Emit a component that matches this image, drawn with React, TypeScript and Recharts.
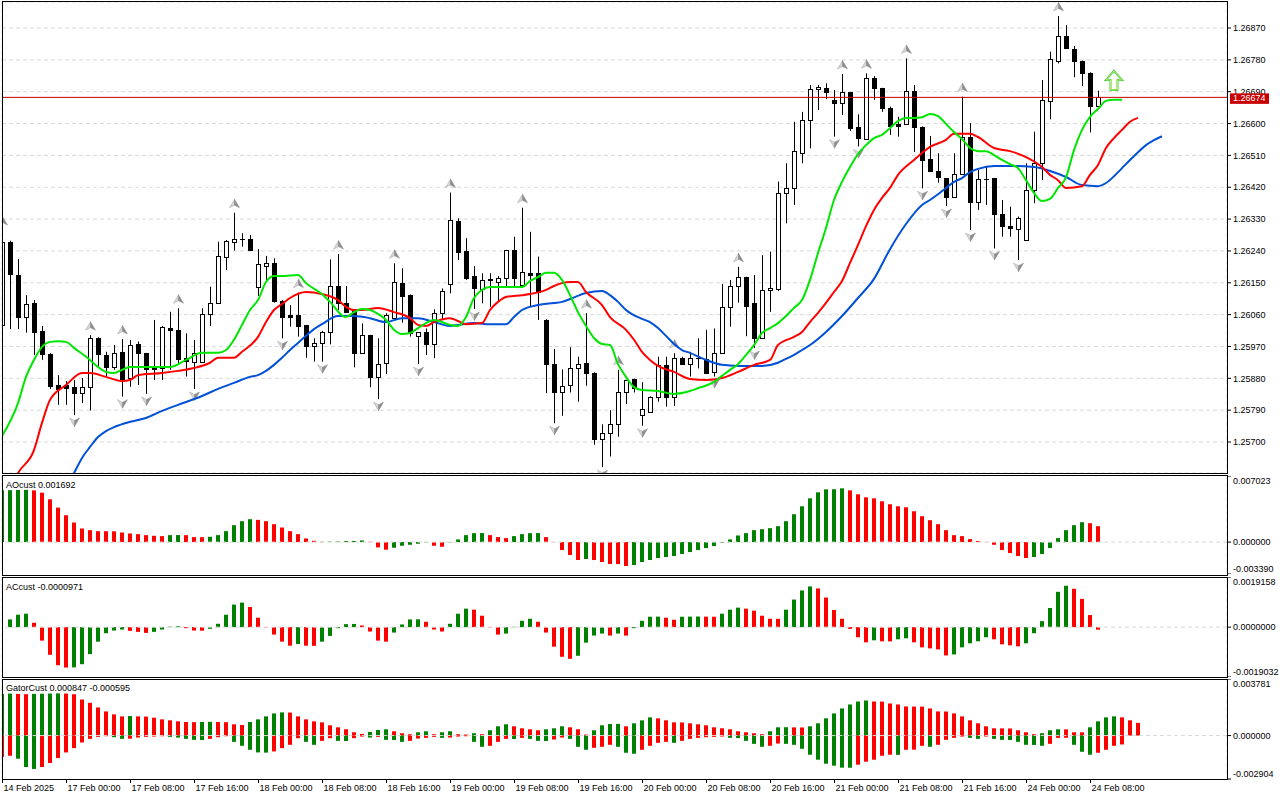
import React from 'react'
import {
  ComposedChart,
  Bar,
  Line,
  XAxis,
  YAxis,
  CartesianGrid,
  Cell,
  ReferenceLine,
  ReferenceDot,
} from 'recharts'

// ---------------------------------------------------------------------------
// Data (H1 bars, 14 Feb 16:00 .. 24 Feb 09:00)
// ---------------------------------------------------------------------------
// [open, high, low, close]
const OHLC: [number, number, number, number][] = [
  [1.26031, 1.26299, 1.26017, 1.26265], // 0
  [1.26266, 1.26269, 1.26019, 1.26174],
  [1.26172, 1.26217, 1.26019, 1.26054],
  [1.26054, 1.26115, 1.26009, 1.26089],
  [1.26092, 1.26101, 1.25946, 1.26012],
  [1.26014, 1.26028, 1.25932, 1.25949],
  [1.25949, 1.25951, 1.2585, 1.25859],
  [1.25861, 1.25889, 1.25805, 1.2585],
  [1.25861, 1.25872, 1.25805, 1.25853],
  [1.25855, 1.25875, 1.25776, 1.25839],
  [1.25838, 1.25881, 1.2581, 1.25856], // 10
  [1.25856, 1.26002, 1.25789, 1.25994],
  [1.25995, 1.25996, 1.25913, 1.25948],
  [1.25946, 1.25955, 1.25885, 1.25913],
  [1.25911, 1.25974, 1.25904, 1.25951],
  [1.25954, 1.25991, 1.25828, 1.25878],
  [1.2588, 1.25988, 1.25856, 1.25974],
  [1.25976, 1.25984, 1.25861, 1.25951],
  [1.25951, 1.25952, 1.25836, 1.25905],
  [1.2591, 1.26045, 1.25875, 1.25906],
  [1.25908, 1.26028, 1.25875, 1.26026], // 20
  [1.26023, 1.26068, 1.25904, 1.26017],
  [1.26017, 1.26078, 1.25922, 1.25935],
  [1.25937, 1.26007, 1.25885, 1.2593],
  [1.25927, 1.25988, 1.2585, 1.25951],
  [1.25927, 1.26078, 1.25925, 1.26062],
  [1.26061, 1.26139, 1.26028, 1.26092],
  [1.26092, 1.26266, 1.2609, 1.26226],
  [1.26224, 1.26271, 1.26186, 1.26268],
  [1.26266, 1.26348, 1.26241, 1.26273],
  [1.26273, 1.2629, 1.26252, 1.26274], // 30
  [1.26273, 1.26285, 1.26241, 1.26243],
  [1.26139, 1.26245, 1.26113, 1.26203],
  [1.26198, 1.26226, 1.26158, 1.26205],
  [1.26205, 1.26219, 1.26094, 1.26099],
  [1.26099, 1.26101, 1.25993, 1.26054],
  [1.26059, 1.26087, 1.26026, 1.26054],
  [1.26059, 1.26122, 1.25998, 1.26029],
  [1.26031, 1.26031, 1.25938, 1.25972],
  [1.25972, 1.25993, 1.25927, 1.25979],
  [1.25979, 1.26014, 1.25927, 1.26012], // 40
  [1.26012, 1.26216, 1.25976, 1.26142],
  [1.26142, 1.26231, 1.26073, 1.26092],
  [1.26092, 1.26141, 1.26066, 1.26068],
  [1.26073, 1.26075, 1.25911, 1.25951],
  [1.25952, 1.26035, 1.2595, 1.26002],
  [1.26002, 1.26003, 1.25855, 1.25883],
  [1.25883, 1.25993, 1.25821, 1.2592],
  [1.25922, 1.26064, 1.25892, 1.26059],
  [1.2605, 1.26205, 1.26048, 1.26151],
  [1.26149, 1.26191, 1.26037, 1.26114], // 50
  [1.26115, 1.26117, 1.25998, 1.26007],
  [1.26, 1.26011, 1.2592, 1.2601],
  [1.2601, 1.26021, 1.25946, 1.25976],
  [1.25976, 1.26075, 1.25937, 1.26064],
  [1.26064, 1.26134, 1.26045, 1.26127],
  [1.26146, 1.26405, 1.2612, 1.26327],
  [1.26325, 1.26332, 1.26214, 1.26238],
  [1.2624, 1.26276, 1.26158, 1.26164],
  [1.26169, 1.26197, 1.26076, 1.26134],
  [1.26132, 1.26177, 1.26092, 1.26158], // 60
  [1.26158, 1.26177, 1.26082, 1.26161],
  [1.26153, 1.26169, 1.26097, 1.26163],
  [1.26163, 1.26243, 1.26139, 1.26243],
  [1.26243, 1.2628, 1.26139, 1.26163],
  [1.26144, 1.26362, 1.26143, 1.2618],
  [1.26178, 1.26294, 1.26082, 1.26172],
  [1.26177, 1.26224, 1.26045, 1.26125],
  [1.26045, 1.26047, 1.25838, 1.2592],
  [1.2592, 1.25963, 1.25753, 1.25842],
  [1.2584, 1.25905, 1.25774, 1.25858], // 70
  [1.25861, 1.25968, 1.2584, 1.25908],
  [1.25908, 1.25941, 1.25814, 1.2592],
  [1.25922, 1.26064, 1.25859, 1.25894],
  [1.25894, 1.25897, 1.25692, 1.25709],
  [1.25708, 1.2575, 1.25629, 1.25725],
  [1.25725, 1.2579, 1.25659, 1.2575],
  [1.2575, 1.25904, 1.25715, 1.2584],
  [1.2584, 1.25876, 1.25807, 1.25875],
  [1.25878, 1.25879, 1.2584, 1.25852],
  [1.25776, 1.25869, 1.25746, 1.25792], // 80
  [1.25784, 1.25829, 1.25783, 1.25828],
  [1.25828, 1.25941, 1.25814, 1.25918],
  [1.25918, 1.25941, 1.258, 1.25828],
  [1.25828, 1.25951, 1.25802, 1.25937],
  [1.25937, 1.25941, 1.25918, 1.2592],
  [1.2592, 1.25955, 1.25885, 1.25937],
  [1.25937, 1.25993, 1.25908, 1.25938],
  [1.25935, 1.26017, 1.25896, 1.25896],
  [1.25899, 1.26021, 1.25885, 1.25951],
  [1.25951, 1.26147, 1.2595, 1.26081], // 90
  [1.26081, 1.26158, 1.26026, 1.26141],
  [1.26141, 1.26195, 1.26094, 1.26166],
  [1.26166, 1.26167, 1.25999, 1.26085],
  [1.26094, 1.26172, 1.25966, 1.25993],
  [1.25993, 1.26228, 1.25992, 1.2613],
  [1.2613, 1.26238, 1.26068, 1.26134],
  [1.26132, 1.26436, 1.26127, 1.26403],
  [1.26403, 1.26488, 1.26318, 1.26417],
  [1.26417, 1.26605, 1.2637, 1.26522],
  [1.26518, 1.26633, 1.26488, 1.2661], // 100
  [1.2661, 1.26709, 1.2653, 1.26697],
  [1.26697, 1.26709, 1.26638, 1.26702],
  [1.267, 1.26714, 1.26669, 1.26688],
  [1.26667, 1.26695, 1.26563, 1.26657],
  [1.26657, 1.2674, 1.26624, 1.26688],
  [1.26688, 1.26689, 1.26579, 1.26588],
  [1.26589, 1.26626, 1.26535, 1.26558],
  [1.26555, 1.26742, 1.26554, 1.26728],
  [1.26728, 1.26734, 1.26667, 1.267],
  [1.267, 1.26701, 1.26633, 1.26643], // 110
  [1.26643, 1.26648, 1.26568, 1.26593],
  [1.26599, 1.26619, 1.26563, 1.26593],
  [1.26598, 1.26784, 1.26597, 1.26692],
  [1.26692, 1.26709, 1.2652, 1.26591],
  [1.26591, 1.26592, 1.26417, 1.26497],
  [1.26499, 1.26565, 1.26466, 1.26467],
  [1.26467, 1.26516, 1.26433, 1.26448],
  [1.26445, 1.26446, 1.26367, 1.26393],
  [1.26393, 1.26516, 1.26392, 1.26457],
  [1.26457, 1.26676, 1.26456, 1.26561], // 120
  [1.26561, 1.26601, 1.26299, 1.26379],
  [1.26379, 1.26469, 1.26356, 1.26443],
  [1.26443, 1.26478, 1.2637, 1.26442],
  [1.26445, 1.26446, 1.26247, 1.26344],
  [1.26344, 1.26384, 1.2628, 1.2631],
  [1.2631, 1.26365, 1.2628, 1.26304],
  [1.26301, 1.26337, 1.26214, 1.26332],
  [1.26271, 1.26488, 1.2627, 1.26412],
  [1.26412, 1.26577, 1.26375, 1.26488],
  [1.26488, 1.26723, 1.2644, 1.26667], // 130
  [1.26664, 1.26803, 1.26612, 1.26782],
  [1.26777, 1.26904, 1.2677, 1.26847],
  [1.26847, 1.26878, 1.26812, 1.26813],
  [1.2681, 1.26819, 1.26731, 1.26777],
  [1.26777, 1.26778, 1.26706, 1.26742],
  [1.26744, 1.26745, 1.26575, 1.2665],
  [1.2665, 1.26693, 1.2665, 1.26674],
]

const FRACTAL_UP = [0, 11, 15, 22, 29, 37, 42, 49, 56, 65, 73, 77, 84, 92, 105, 108, 113, 120, 132]
const FRACTAL_DOWN = [9, 15, 18, 24, 35, 40, 47, 52, 59, 69, 75, 80, 89, 94, 104, 107, 115, 118, 121, 124, 127]

// alligator lines, [bar index, price] (already shifted forward)
const LIPS: [number, number][] = [
  [0, 1.25717], [2, 1.2581], [3, 1.25884], [4, 1.25932], [5, 1.25969], [6, 1.25983], [7, 1.25985],
  [8, 1.25983], [9, 1.25966], [11, 1.25932], [12, 1.25912], [13, 1.25898], [14, 1.25895], [15, 1.25904],
  [16, 1.25912], [18, 1.25912], [21, 1.25912], [23, 1.25932], [25, 1.25952], [27, 1.25952], [28, 1.2596],
  [29, 1.25989], [30, 1.26031], [31, 1.26073], [32, 1.26101], [33, 1.26152], [34, 1.26169], [35, 1.26169],
  [37, 1.26172], [38, 1.26149], [40, 1.26118], [41, 1.26096], [43, 1.26053], [44, 1.26067], [45, 1.26076],
  [46, 1.26073], [47, 1.26062], [48, 1.26045], [49, 1.26017], [50, 1.26005], [51, 1.26008], [52, 1.26022],
  [53, 1.26036], [54, 1.26045], [56, 1.26031], [57, 1.26028], [58, 1.26053], [59, 1.26107], [60, 1.2613],
  [61, 1.26138], [63, 1.26138], [65, 1.26138], [66, 1.26155], [67, 1.26166], [68, 1.26178], [69, 1.26178],
  [70, 1.26158], [71, 1.26115], [72, 1.26067], [73, 1.26028], [74, 1.25994], [75, 1.25977], [76, 1.25974],
  [77, 1.2592], [78, 1.25884], [79, 1.25855], [80, 1.25847], [82, 1.25844], [84, 1.25836], [86, 1.25844],
  [87, 1.25852], [89, 1.2587], [90, 1.25887], [91, 1.25904], [92, 1.2592], [93, 1.25946], [94, 1.25974],
  [95, 1.26008], [96, 1.26022], [97, 1.26036], [98, 1.26056], [99, 1.26079], [100, 1.26101], [101, 1.26158],
  [102, 1.26234], [103, 1.26305], [104, 1.26384], [105, 1.26435], [106, 1.26477], [107, 1.26514],
  [108, 1.26539], [109, 1.26559], [110, 1.26568], [111, 1.26587], [112, 1.26607], [113, 1.26616],
  [114, 1.26616], [115, 1.26618], [116, 1.26627], [117, 1.26621], [118, 1.26599], [119, 1.26576],
  [120, 1.26556], [121, 1.26531], [122, 1.26522], [123, 1.26522], [124, 1.26511], [125, 1.26497],
  [126, 1.26485], [127, 1.26474], [128, 1.2644], [129, 1.26404], [130, 1.26381], [131, 1.26387],
  [132, 1.26418], [133, 1.26448], [134, 1.26525], [135, 1.26582], [136, 1.26619], [137, 1.26641],
  [138, 1.26664], [139, 1.26667], [140, 1.26667],
]

const TEETH: [number, number][] = [
  [1, 1.25564], [2, 1.25612], [4, 1.25677], [5, 1.25754], [6, 1.25819], [8, 1.25861], [10, 1.25895],
  [11, 1.25895], [13, 1.25884], [15, 1.25872], [16, 1.25875], [17, 1.25889], [20, 1.25895], [22, 1.25901],
  [24, 1.25909], [26, 1.25924], [27, 1.25938], [29, 1.25938], [30, 1.25955], [32, 1.25997], [33, 1.26039],
  [34, 1.26073], [35, 1.2609], [36, 1.26107], [38, 1.26124], [40, 1.26118], [42, 1.26101], [43, 1.26082],
  [44, 1.26073], [45, 1.26073], [47, 1.26079], [49, 1.26067], [51, 1.2605], [52, 1.26031], [53, 1.26028],
  [54, 1.26039], [56, 1.2605], [57, 1.26042], [58, 1.26033], [60, 1.26036], [61, 1.26073], [62, 1.26096],
  [63, 1.2611], [65, 1.26115], [66, 1.26118], [68, 1.2613], [69, 1.26141], [70, 1.26149], [71, 1.26152],
  [72, 1.26152], [73, 1.26124], [75, 1.26087], [76, 1.26053], [78, 1.26017], [79, 1.25989], [80, 1.25955],
  [81, 1.25932], [82, 1.25915], [84, 1.25898], [86, 1.25878], [88, 1.25875], [90, 1.25881], [92, 1.25898],
  [94, 1.25918], [96, 1.25932], [97, 1.25974], [99, 1.25997], [100, 1.26011], [101, 1.26039], [102, 1.26065],
  [103, 1.26093], [104, 1.26124], [105, 1.26155], [106, 1.26206], [107, 1.26257], [108, 1.2631],
  [109, 1.26356], [110, 1.2639], [111, 1.26418], [112, 1.26455], [114, 1.26497], [116, 1.26534],
  [118, 1.26554], [119, 1.26571], [121, 1.26571], [122, 1.26562], [124, 1.26531], [126, 1.26522],
  [128, 1.26505], [130, 1.26477], [131, 1.26455], [132, 1.2644], [133, 1.26418], [135, 1.26423],
  [136, 1.26455], [137, 1.26483], [138, 1.26531], [139, 1.26559], [140, 1.26582], [141, 1.26605],
  [142, 1.26616],
]

const JAW: [number, number][] = [
  [8, 1.2557], [9, 1.25612], [10, 1.25655], [11, 1.25686], [12, 1.25714], [13, 1.25731], [14, 1.25742],
  [16, 1.25757], [18, 1.25768], [20, 1.25788], [22, 1.25805], [25, 1.2583], [27, 1.2585], [29, 1.25867],
  [31, 1.25884], [32, 1.25889], [33, 1.25901], [34, 1.25918], [35, 1.25938], [36, 1.2596], [37, 1.2598],
  [38, 1.26], [39, 1.26019], [40, 1.26033], [42, 1.26056], [44, 1.26056], [46, 1.2605], [48, 1.26039],
  [50, 1.2605], [52, 1.2605], [54, 1.26039], [56, 1.26028], [57, 1.26031], [59, 1.26036], [61, 1.26033],
  [63, 1.26033], [64, 1.26053], [65, 1.26073], [67, 1.26087], [69, 1.26093], [70, 1.26096], [71, 1.26104],
  [73, 1.26121], [75, 1.26127], [76, 1.26115], [77, 1.26096], [78, 1.26073], [80, 1.26048], [81, 1.26039],
  [82, 1.26022], [83, 1.26], [84, 1.25977], [85, 1.2596], [86, 1.25952], [88, 1.25932], [90, 1.25918],
  [92, 1.25915], [95, 1.25915], [97, 1.25924], [98, 1.25935], [99, 1.25946], [100, 1.2596], [101, 1.25974],
  [103, 1.26011], [105, 1.26056], [107, 1.26107], [109, 1.26161], [111, 1.26245], [113, 1.26316],
  [115, 1.2637], [116, 1.26384], [117, 1.264], [118, 1.26418], [119, 1.26435], [120, 1.26446],
  [121, 1.26463], [122, 1.26472], [124, 1.2648], [126, 1.2648], [129, 1.26477], [131, 1.26466],
  [133, 1.26449], [135, 1.26426], [137, 1.26423], [138, 1.26432], [139, 1.26451], [140, 1.26474],
  [141, 1.26497], [142, 1.26519], [143, 1.26539], [144, 1.26553], [145, 1.26564],
]

// oscillators, in millionths (AC in ten-millionths)
const AO_E6 = [
  5499, 5517, 5534, 5552, 5499, 5252, 4547, 3666, 2855, 2080,
  1445, 1269, 1163, 1156, 1146, 1022, 917, 846, 740, 670,
  635, 740, 747, 740, 529, 522, 564, 740, 1163, 1798,
  2221, 2432, 2362, 2221, 1904, 1551, 1163, 846, 388, 141,
  35, 46, 56, 106, 113, 176, 35, -564, -811, -599,
  -388, -282, -176, -35, -388, -494, -35, 282, 740, 952,
  962, 740, 529, 423, 635, 846, 952, 962, 529, -18,
  -846, -1375, -1904, -1798, -1904, -2115, -2327, -2337, -2538, -2432,
  -2115, -1904, -1692, -1586, -1481, -1269, -1058, -846, -635, -423,
  -71, 282, 705, 952, 1269, 1375, 1481, 1692, 2221, 2961,
  3807, 4653, 5288, 5605, 5615, 5711, 5499, 5076, 4759, 4653,
  4336, 4019, 3807, 3701, 3278, 2750, 2327, 1904, 1269, 740,
  635, 317, 106, 18, -282, -846, -1163, -1481, -1692, -1586,
  -1269, -635, 423, 1269, 1798, 2115, 2009, 1692,
]

const AC_E7 = [
  0, 2957, 4757, 5143, 1672, -5143, -10544, -14530, -15430, -15365,
  -14144, -10286, -5529, -2314, -1286, -900, -1414, -1800, -2186, -1800,
  -900, 193, 321, -386, -1286, -1350, -643, 1286, 4757, 8615,
  9386, 7715, 3600, -129, -2829, -5529, -7072, -6429, -7072, -7136,
  -5529, -3343, -386, 1157, 1222, 643, -1672, -5143, -5529, -2057,
  1029, 2957, 2996, 2057, -900, -1672, 1286, 5143, 7072, 6686,
  4372, -129, -2829, -2443, 129, 2443, 3215, 2057, -2057, -7458,
  -11315, -12087, -10929, -5915, -3215, -2443, -3215, -2443, -3215, -386,
  2443, 3986, 4025, 3600, 2829, 3986, 4025, 4063, 4025, 3986,
  5143, 6686, 7458, 7072, 6300, 4372, 3215, 3176, 6686, 10544,
  14015, 15558, 14787, 11315, 6558, 3215, -643, -3857, -5786, -5015,
  -5400, -5439, -4629, -4243, -5786, -7715, -8101, -8486, -10801, -10415,
  -7715, -6172, -5400, -3857, -4629, -6558, -6943, -7329, -6172, -2314,
  2314, 7329, 13501, 15815, 14658, 10801, 4629, -971,
]

const GATOR_UP_E6 = [
  2786, 2808, 2786, 2764, 2786, 2797, 2808, 2819, 2808, 2764,
  2410, 2189, 1879, 1614, 1415, 1282, 1304, 1282, 1271, 1194,
  1083, 1017, 951, 907, 895, 907, 918, 907, 895, 752,
  708, 907, 1083, 1282, 1481, 1548, 1537, 1282, 1083, 951,
  884, 685, 553, 420, 221, 111, 243, 376, 420, 287,
  155, 88, 221, 287, 88, 221, 287, 88, 66, 155,
  88, 354, 619, 752, 619, 486, 420, 354, 420, 486,
  619, 553, 420, 66, 354, 685, 774, 780, 619, 818,
  1017, 1216, 1150, 1017, 884, 878, 818, 752, 685, 553,
  486, 420, 287, 221, 155, 88, 287, 553, 559, 546,
  542, 619, 818, 1150, 1481, 1813, 2078, 2277, 2344, 2277,
  2271, 2145, 2078, 1946, 1939, 1935, 1813, 1614, 1607, 1481,
  1282, 1017, 818, 619, 486, 480, 475, 354, 221, 88,
  155, 354, 420, 413, 221, 214, 553, 951, 1216, 1282,
  1216, 1017, 847,
]

const GATOR_DOWN_E6 = [
  -1437, -1349, -1548, -2100, -2233, -2100, -1835, -1503, -1128, -840,
  -464, -221, -88, -44, -111, -221, -210, -133, -88, -66,
  -44, -88, -133, -221, -287, -298, -221, -111, -44, -420,
  -685, -951, -1128, -1139, -1061, -840, -619, -177, -420, -619,
  -354, -177, -354, -365, -177, -66, -133, -88, -287, -298,
  -420, -354, -199, -155, -88, -155, -133, -66, -44, -420,
  -752, -685, -420, -221, -232, -155, -221, -354, -365, -265,
  -133, -221, -752, -951, -818, -752, -619, -752, -1150, -1216,
  -951, -685, -486, -420, -486, -354, -221, -155, -111, -88,
  -66, -155, -166, -354, -553, -752, -685, -531, -553, -619,
  -884, -1282, -1614, -1879, -2012, -2145, -2151, -1946, -1747, -1614,
  -1349, -1282, -1289, -951, -944, -685, -752, -619, -287, -155,
  -66, -155, -221, -66, -221, -287, -294, -420, -619, -626,
  -685, -553, -155, -148, -619, -1083, -1282, -1150, -951, -685,
  -595,
]

const PRICE_TICKS = [
  1.257, 1.2579, 1.2588, 1.2597, 1.2606, 1.2615, 1.2624, 1.2633, 1.2642, 1.2651, 1.266, 1.2669, 1.2678, 1.2687,
]
const TIME_LABELS: [number, string][] = [
  [0, '14 Feb 2025'], [8, '17 Feb 00:00'], [16, '17 Feb 08:00'], [24, '17 Feb 16:00'],
  [32, '18 Feb 00:00'], [40, '18 Feb 08:00'], [48, '18 Feb 16:00'], [56, '19 Feb 00:00'],
  [64, '19 Feb 08:00'], [72, '19 Feb 16:00'], [80, '20 Feb 00:00'], [88, '20 Feb 08:00'],
  [96, '20 Feb 16:00'], [104, '21 Feb 00:00'], [112, '21 Feb 08:00'], [120, '21 Feb 16:00'],
  [128, '24 Feb 00:00'], [136, '24 Feb 08:00'],
]
const LAST_PRICE = 1.26674
const SIGNAL: [number, number] = [139, 1.26722]

// ---------------------------------------------------------------------------
// Scales / layout
// ---------------------------------------------------------------------------
const X_DOMAIN: [number, number] = [0, 153.125]
const P_DOMAIN: [number, number] = [1.256124, 1.269435]
const AO_DOMAIN: [number, number] = [-0.00339, 0.007023]
const AC_DOMAIN: [number, number] = [-0.0019032, 0.0019158]
const GATOR_DOMAIN: [number, number] = [-0.002904, 0.003781]
const GRID_X = Array.from({ length: 38 }, (_, k) => (k + 1) * 4)

const GREEN = '#008000'
const RED = '#ff0000'
const GRID = '#d9d9d9'
const FONT = '"Liberation Sans", Arial, sans-serif'

const AO = AO_E6.map((v) => v / 1e6)
const AC = AC_E7.map((v) => v / 1e7)
const GATOR_UP = GATOR_UP_E6.map((v) => v / 1e6)
const GATOR_DOWN = GATOR_DOWN_E6.map((v) => v / 1e6)

function trendColors(values: number[], first = GREEN) {
  let cur = first
  return values.map((v, k) => {
    if (k > 0) {
      if (v > values[k - 1]) cur = GREEN
      else if (v < values[k - 1]) cur = RED
    }
    return cur
  })
}

const aoColors = trendColors(AO)
const acColors = trendColors(AC)
const upColors = trendColors(GATOR_UP)
const downColors = trendColors(GATOR_DOWN.map(Math.abs), RED)

const lipsAt = new Map(LIPS)
const teethAt = new Map(TEETH)
const jawAt = new Map(JAW)
const upSet = new Set(FRACTAL_UP)
const downSet = new Set(FRACTAL_DOWN)
const timeText = new Map(TIME_LABELS)

const ROWS = Array.from({ length: 146 }, (_, i) => {
  const b = OHLC[i]
  return {
    i,
    range: b ? [b[2], b[1]] : null,
    o: b ? b[0] : null,
    h: b ? b[1] : null,
    l: b ? b[2] : null,
    c: b ? b[3] : null,
    fu: upSet.has(i),
    fd: downSet.has(i),
    lips: lipsAt.get(i) ?? null,
    teeth: teethAt.get(i) ?? null,
    jaw: jawAt.get(i) ?? null,
    ao: AO[i] ?? null,
    ac: AC[i] ?? null,
    gUp: GATOR_UP[i] ?? 0,
    gDown: GATOR_DOWN[i] ?? 0,
  }
})

// ---------------------------------------------------------------------------
// Shapes
// ---------------------------------------------------------------------------
function Fractal({ x, y, up }: { x: number; y: number; up?: boolean }) {
  const s = up ? 1 : -1
  const tip = y - 4.5 * s
  const wing = y + 4 * s
  const notch = y + 1.5 * s
  return (
    <g>
      <path d={`M${x},${tip} L${x},${notch} L${x - 5},${wing} Z`} fill="#d6d6d6" stroke="#a0a0a0" strokeWidth={0.5} />
      <path d={`M${x},${tip} L${x + 5},${wing} L${x},${notch} Z`} fill="#8c8c8c" stroke="#8c8c8c" strokeWidth={0.5} />
    </g>
  )
}

function Candle(props: any) {
  const { x, y, width, height, payload } = props
  if (!payload || payload.o == null) return null
  const { o, h, l, c } = payload
  const px = Math.round(x + width / 2)
  const yAt = (p: number) => y + ((h - p) / (h - l)) * height
  const top = Math.round(Math.min(yAt(o), yAt(c))) + 0.5
  const bottom = Math.round(Math.max(yAt(o), yAt(c))) + 0.5
  const wx = px + 0.5
  return (
    <g>
      <line x1={wx} x2={wx} y1={y} y2={y + height} stroke="#000" />
      {bottom - top < 1 ? (
        <line x1={px - 2} x2={px + 3} y1={top} y2={top} stroke="#000" />
      ) : (
        <rect x={px - 1.5} y={top} width={4} height={bottom - top} fill={c > o ? '#fff' : '#000'} stroke="#000" />
      )}
      {payload.fu && <Fractal x={wx} y={y - 9} up />}
      {payload.fd && <Fractal x={wx} y={y + height + 7} />}
    </g>
  )
}

function SignalArrow(props: any) {
  const { cx, cy } = props
  const t = cy - 9.5
  const d = `M${cx},${t} L${cx + 8},${t + 9} L${cx + 3.5},${t + 9} L${cx + 3.5},${t + 19} L${cx - 3.5},${t + 19} L${cx - 3.5},${t + 9} L${cx - 8},${t + 9} Z`
  return (
    <g>
      <path d={d} fill="none" stroke="#3fcf3f" strokeWidth={2} />
      <path d={d} fill="none" stroke="#eef27a" strokeWidth={0.7} />
    </g>
  )
}

// the last-price box on the right scale, drawn over the 1.26690 tick like the terminal does
function PriceLabel(props: any) {
  const vb = props.viewBox
  if (!vb) return null
  const x = vb.x + vb.width + 3
  const y = vb.y
  return (
    <g>
      <rect x={x} y={y - 4} width={39} height={10.5} fill="#c80000" />
      <text x={x + 3} y={y + 3.8} fill="#fff" fontSize={9} fontFamily={FONT}>
        {LAST_PRICE.toFixed(5)}
      </text>
    </g>
  )
}

function SideTick(props: any) {
  const { x, y, payload, digits, lo, hi } = props
  const v = payload.value as number
  const shift = v === hi ? 5 : v === lo ? -5 : 0
  return (
    <text x={x} y={y + shift} dy="0.35em" fontSize={9} fontFamily={FONT} fill="#000">
      {v.toFixed(digits)}
    </text>
  )
}

function TimeTick(props: any) {
  const { x, y, payload } = props
  const px = Math.round(x) + 0.5
  return (
    <g>
      <line x1={px} x2={px} y1={y} y2={y + 4} stroke="#000" />
      <text x={px + 1} y={y + 12} fontSize={9} fontFamily={FONT} fill="#000">
        {timeText.get(payload.value)}
      </text>
    </g>
  )
}

// ---------------------------------------------------------------------------
// Panels
// ---------------------------------------------------------------------------
const gridAxis = (
  <XAxis
    type="number"
    dataKey="i"
    domain={X_DOMAIN}
    allowDataOverflow
    ticks={GRID_X}
    interval={0}
    tick={false}
    tickLine={false}
    axisLine={false}
    height={0}
  />
)

function sideAxis(domain: [number, number], digits: number) {
  return (
    <YAxis
      orientation="right"
      width={53}
      domain={domain}
      allowDataOverflow
      ticks={[domain[0], 0, domain[1]]}
      interval={0}
      tickSize={4}
      tickMargin={2}
      tickLine={{ stroke: '#000' }}
      axisLine={false}
      tick={<SideTick digits={digits} lo={domain[0]} hi={domain[1]} />}
    />
  )
}

const frame = (top: number, height: number): React.CSSProperties => ({
  position: 'absolute',
  left: 2,
  top,
  width: 1226,
  height,
  border: '1px solid #000',
  boxSizing: 'border-box',
  pointerEvents: 'none',
})

const caption = (top: number): React.CSSProperties => ({
  position: 'absolute',
  left: 6,
  top,
  fontSize: 9,
  lineHeight: '10px',
  whiteSpace: 'nowrap',
})

export default function App() {
  return (
    <div
      style={{
        position: 'absolute',
        left: 0,
        top: 0,
        width: 1280,
        height: 800,
        background: '#fff',
        fontFamily: FONT,
        overflow: 'hidden',
      }}
    >
      {/* price panel */}
      <div style={{ position: 'absolute', left: 0, top: 0 }}>
        <ComposedChart width={1280} height={476} data={ROWS} margin={{ top: 2, right: 0, bottom: 3, left: 2 }}>
          <CartesianGrid stroke={GRID} strokeDasharray="4 3" />
          {gridAxis}
          <YAxis
            orientation="right"
            width={53}
            domain={P_DOMAIN}
            allowDataOverflow
            ticks={PRICE_TICKS}
            interval={0}
            tickSize={4}
            tickMargin={2}
            tickLine={{ stroke: '#000' }}
            axisLine={false}
            tick={{ fontSize: 9, fill: '#000', fontFamily: FONT }}
            tickFormatter={(v: number) => v.toFixed(5)}
          />
          <Bar dataKey="range" barSize={5} shape={<Candle />} isAnimationActive={false} />
          <Line dataKey="jaw" type="monotone" stroke="#0050d8" strokeWidth={2} dot={false} connectNulls isAnimationActive={false} />
          <Line dataKey="teeth" type="monotone" stroke="#ff0000" strokeWidth={2} dot={false} connectNulls isAnimationActive={false} />
          <Line dataKey="lips" type="monotone" stroke="#00e600" strokeWidth={2} dot={false} connectNulls isAnimationActive={false} />
          <ReferenceLine y={LAST_PRICE} stroke="#c80000" label={<PriceLabel />} zIndex={2500} />
          <ReferenceDot x={SIGNAL[0]} y={SIGNAL[1]} r={0} shape={SignalArrow} />
        </ComposedChart>
      </div>
      <div style={frame(1, 473)} />

      {/* AO */}
      <div style={{ position: 'absolute', left: 0, top: 476 }}>
        <ComposedChart width={1280} height={98} data={ROWS} margin={{ top: 0, right: 0, bottom: 0, left: 2 }}>
          <CartesianGrid horizontal={false} stroke={GRID} strokeDasharray="4 3" />
          {gridAxis}
          {sideAxis(AO_DOMAIN, 6)}
          <ReferenceLine y={0} stroke={GRID} strokeDasharray="4 3" />
          <Bar dataKey="ao" barSize={4} isAnimationActive={false}>
            {ROWS.map((r, k) => (
              <Cell key={`ao-${k}`} fill={aoColors[k] ?? GREEN} />
            ))}
          </Bar>
        </ComposedChart>
      </div>
      <div style={frame(475, 101)} />
      <div style={caption(480)}>AOcust 0.001692</div>

      {/* AC */}
      <div style={{ position: 'absolute', left: 0, top: 577 }}>
        <ComposedChart width={1280} height={100} data={ROWS} margin={{ top: 0, right: 0, bottom: 0, left: 2 }}>
          <CartesianGrid horizontal={false} stroke={GRID} strokeDasharray="4 3" />
          {gridAxis}
          {sideAxis(AC_DOMAIN, 7)}
          <ReferenceLine y={0} stroke={GRID} strokeDasharray="4 3" />
          <Bar dataKey="ac" barSize={4} isAnimationActive={false}>
            {ROWS.map((r, k) => (
              <Cell key={`ac-${k}`} fill={acColors[k] ?? GREEN} />
            ))}
          </Bar>
        </ComposedChart>
      </div>
      <div style={frame(577, 101)} />
      <div style={caption(582)}>ACcust -0.0000971</div>

      {/* Gator */}
      <div style={{ position: 'absolute', left: 0, top: 679 }}>
        <ComposedChart
          width={1280}
          height={121}
          data={ROWS}
          stackOffset="sign"
          margin={{ top: 0, right: 0, bottom: 0, left: 2 }}
        >
          <CartesianGrid horizontal={false} stroke={GRID} strokeDasharray="4 3" />
          {gridAxis}
          <XAxis
            xAxisId="time"
            type="number"
            dataKey="i"
            domain={X_DOMAIN}
            allowDataOverflow
            ticks={TIME_LABELS.map((t) => t[0])}
            interval={0}
            tickSize={0}
            tickMargin={0}
            tickLine={false}
            axisLine={false}
            height={21}
            tick={<TimeTick />}
          />
          {sideAxis(GATOR_DOMAIN, 6)}
          <ReferenceLine y={0} stroke={GRID} strokeDasharray="4 3" />
          <Bar dataKey="gUp" stackId="g" barSize={4} isAnimationActive={false}>
            {ROWS.map((r, k) => (
              <Cell key={`gu-${k}`} fill={upColors[k] ?? GREEN} />
            ))}
          </Bar>
          <Bar dataKey="gDown" stackId="g" barSize={4} isAnimationActive={false}>
            {ROWS.map((r, k) => (
              <Cell key={`gd-${k}`} fill={downColors[k] ?? RED} />
            ))}
          </Bar>
        </ComposedChart>
      </div>
      <div style={frame(679, 101)} />
      <div style={caption(683)}>GatorCust 0.000847 -0.000595</div>
    </div>
  )
}
